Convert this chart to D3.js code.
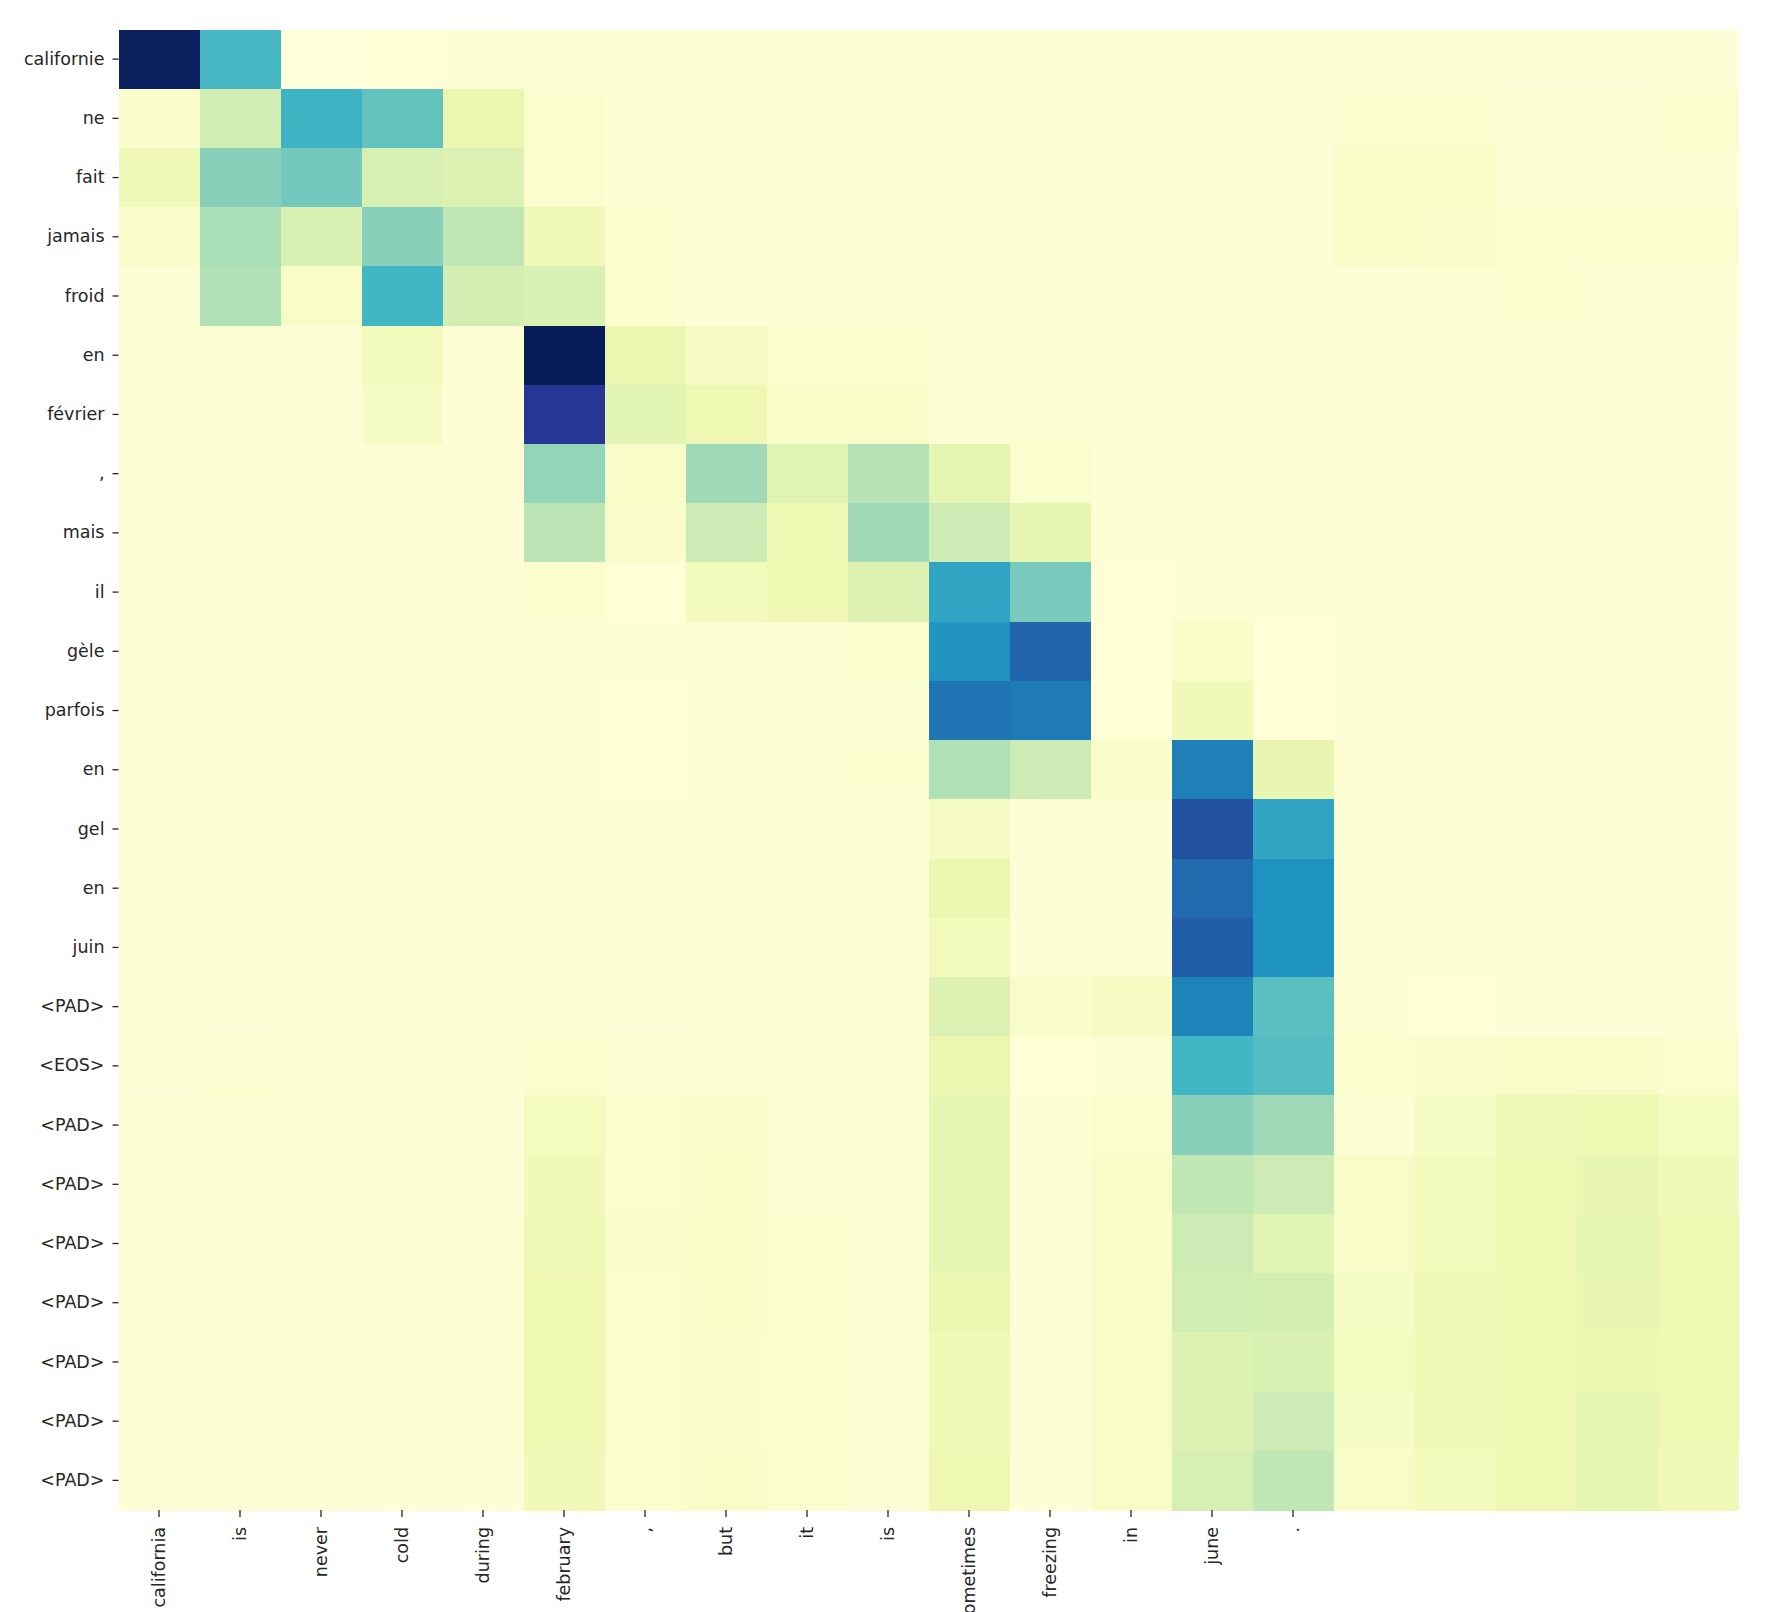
<!DOCTYPE html>
<html>
<head>
<meta charset="utf-8">
<script src="https://cdn.jsdelivr.net/npm/d3@7"></script>
<style>
  html, body { margin: 0; padding: 0; background: #ffffff; }
  svg { display: block; }
  .tick text { font-family: "DejaVu Sans", sans-serif; font-size: 17.5px; fill: #262626; }
  .tick line { stroke: #262626; stroke-width: 1.3; }
</style>
</head>
<body>
<svg id="chart" width="1782" height="1612"></svg>
<script>
// English (source) tokens: columns
const xLabels = ["california", "is", "never", "cold", "during", "february", ",", "but", "it", "is",
                 "sometimes", "freezing", "in", "june", ".", "", "", "", "", ""];
// French (target) tokens: rows
const yLabels = ["californie", "ne", "fait", "jamais", "froid", "en", "février", ",", "mais", "il",
                 "gèle", "parfois", "en", "gel", "en", "juin", "<PAD>", "<EOS>", "<PAD>", "<PAD>",
                 "<PAD>", "<PAD>", "<PAD>", "<PAD>", "<PAD>"];

// attention weights, one row per French token
const row00 = [0.99, 0.49, 0.00, 0.005, 0.02, 0.01, 0.01, 0.01, 0.01, 0.01, 0.01, 0.01, 0.01, 0.01, 0.01, 0.01, 0.01, 0.01, 0.01, 0.01];
const row01 = [0.04, 0.22, 0.51, 0.43, 0.13, 0.03, 0.01, 0.01, 0.01, 0.01, 0.01, 0.01, 0.01, 0.01, 0.01, 0.03, 0.03, 0.02, 0.02, 0.03];
const row02 = [0.10, 0.36, 0.40, 0.20, 0.18, 0.03, 0.01, 0.015, 0.015, 0.015, 0.015, 0.015, 0.015, 0.015, 0.01, 0.05, 0.05, 0.015, 0.02, 0.02];
const row03 = [0.04, 0.30, 0.19, 0.36, 0.26, 0.10, 0.03, 0.015, 0.015, 0.015, 0.015, 0.015, 0.015, 0.015, 0.015, 0.05, 0.04, 0.035, 0.03, 0.03];
const row04 = [0.01, 0.29, 0.05, 0.50, 0.21, 0.19, 0.03, 0.02, 0.02, 0.02, 0.02, 0.02, 0.02, 0.02, 0.02, 0.02, 0.02, 0.03, 0.02, 0.02];
const row05 = [0.01, 0.025, 0.01, 0.09, 0.02, 1.00, 0.13, 0.07, 0.03, 0.035, 0.015, 0.015, 0.015, 0.01, 0.01, 0.01, 0.01, 0.01, 0.01, 0.01];
const row06 = [0.015, 0.02, 0.01, 0.06, 0.015, 0.87, 0.16, 0.12, 0.05, 0.05, 0.015, 0.015, 0.015, 0.01, 0.01, 0.01, 0.01, 0.01, 0.01, 0.01];
const row07 = [0.01, 0.01, 0.01, 0.015, 0.01, 0.34, 0.05, 0.32, 0.17, 0.28, 0.15, 0.035, 0.015, 0.015, 0.01, 0.01, 0.01, 0.01, 0.01, 0.01];
const row08 = [0.01, 0.01, 0.01, 0.015, 0.01, 0.27, 0.04, 0.23, 0.12, 0.32, 0.23, 0.15, 0.02, 0.02, 0.01, 0.01, 0.01, 0.01, 0.01, 0.01];
const row09 = [0.01, 0.01, 0.01, 0.01, 0.01, 0.03, 0.005, 0.09, 0.12, 0.18, 0.56, 0.39, 0.005, 0.02, 0.01, 0.01, 0.01, 0.01, 0.01, 0.01];
const row10 = [0.01, 0.01, 0.01, 0.01, 0.01, 0.01, 0.01, 0.01, 0.015, 0.03, 0.61, 0.73, 0.005, 0.05, 0.005, 0.01, 0.01, 0.01, 0.01, 0.01];
const row11 = [0.01, 0.01, 0.01, 0.01, 0.01, 0.01, 0.005, 0.01, 0.015, 0.025, 0.69, 0.68, 0.005, 0.10, 0.005, 0.01, 0.01, 0.01, 0.01, 0.01];
const row12 = [0.01, 0.01, 0.01, 0.01, 0.01, 0.01, 0.005, 0.01, 0.02, 0.035, 0.29, 0.23, 0.04, 0.67, 0.14, 0.015, 0.01, 0.01, 0.01, 0.01];
const row13 = [0.01, 0.01, 0.01, 0.01, 0.01, 0.01, 0.01, 0.01, 0.01, 0.01, 0.07, 0.01, 0.015, 0.79, 0.56, 0.01, 0.01, 0.01, 0.01, 0.01];
const row14 = [0.01, 0.01, 0.01, 0.01, 0.01, 0.01, 0.01, 0.01, 0.01, 0.01, 0.13, 0.01, 0.01, 0.72, 0.62, 0.01, 0.01, 0.01, 0.01, 0.01];
const row15 = [0.01, 0.01, 0.01, 0.01, 0.01, 0.01, 0.01, 0.01, 0.01, 0.015, 0.09, 0.01, 0.02, 0.75, 0.62, 0.01, 0.01, 0.01, 0.01, 0.01];
const row16 = [0.01, 0.01, 0.01, 0.01, 0.01, 0.01, 0.01, 0.015, 0.015, 0.015, 0.18, 0.04, 0.07, 0.66, 0.45, 0.02, 0.005, 0.01, 0.01, 0.01];
const row17 = [0.01, 0.025, 0.01, 0.01, 0.01, 0.03, 0.025, 0.02, 0.015, 0.01, 0.13, 0.005, 0.015, 0.50, 0.46, 0.03, 0.04, 0.05, 0.05, 0.03];
const row18 = [0.02, 0.02, 0.01, 0.01, 0.01, 0.08, 0.03, 0.04, 0.02, 0.01, 0.15, 0.01, 0.03, 0.36, 0.32, 0.02, 0.06, 0.10, 0.12, 0.08];
const row19 = [0.02, 0.02, 0.01, 0.01, 0.01, 0.10, 0.03, 0.05, 0.02, 0.01, 0.15, 0.01, 0.05, 0.26, 0.23, 0.05, 0.09, 0.12, 0.14, 0.10];
const row20 = [0.02, 0.02, 0.01, 0.01, 0.01, 0.11, 0.04, 0.05, 0.03, 0.01, 0.15, 0.01, 0.05, 0.23, 0.16, 0.05, 0.09, 0.12, 0.15, 0.12];
const row21 = [0.02, 0.02, 0.01, 0.01, 0.01, 0.12, 0.03, 0.05, 0.03, 0.01, 0.13, 0.01, 0.05, 0.22, 0.21, 0.06, 0.10, 0.12, 0.14, 0.12];
const row22 = [0.02, 0.02, 0.01, 0.01, 0.01, 0.12, 0.03, 0.04, 0.03, 0.01, 0.11, 0.01, 0.05, 0.18, 0.19, 0.08, 0.11, 0.12, 0.13, 0.12];
const row23 = [0.02, 0.02, 0.01, 0.01, 0.01, 0.12, 0.03, 0.04, 0.03, 0.01, 0.11, 0.01, 0.05, 0.18, 0.23, 0.06, 0.10, 0.12, 0.15, 0.12];
const row24 = [0.02, 0.02, 0.02, 0.01, 0.01, 0.10, 0.03, 0.05, 0.03, 0.01, 0.12, 0.01, 0.05, 0.20, 0.26, 0.05, 0.09, 0.12, 0.15, 0.10];

const values = [row00, row01, row02, row03, row04, row05, row06, row07, row08, row09,
                row10, row11, row12, row13, row14, row15, row16, row17, row18, row19,
                row20, row21, row22, row23, row24];

// YlGnBu (matplotlib-style linear interpolation between the 9 ColorBrewer stops)
const ylgnbu = ["#ffffd9", "#edf8b1", "#c7e9b4", "#7fcdbb", "#41b6c4", "#1d91c0", "#225ea8", "#253494", "#081d58"];

const svg = d3.select("#chart");
svg.append("rect").attr("width", 1782).attr("height", 1612).attr("fill", "#ffffff");

const plotLeft = 118.5, plotTop = 29.5, plotWidth = 1620, plotHeight = 1480.5;

const x = d3.scaleBand().domain(d3.range(xLabels.length)).range([plotLeft, plotLeft + plotWidth]).padding(0);
const y = d3.scaleBand().domain(d3.range(yLabels.length)).range([plotTop, plotTop + plotHeight]).padding(0);

const vmax = d3.max(values.flat());
const color = d3.scaleLinear()
  .domain(ylgnbu.map((_, i) => vmax * i / (ylgnbu.length - 1)))
  .range(ylgnbu)
  .interpolate(d3.interpolateRgb)
  .clamp(true);

const cells = [];
values.forEach((row, r) => row.forEach((v, c) => cells.push({ r, c, v })));

svg.append("g")
  .selectAll("rect")
  .data(cells)
  .join("rect")
  .attr("x", d => x(d.c))
  .attr("y", d => y(d.r))
  .attr("width", x.bandwidth() + 0.5)
  .attr("height", y.bandwidth() + 0.5)
  .attr("fill", d => color(d.v))
  .attr("shape-rendering", "crispEdges");

// Y axis
const yAxis = svg.append("g")
  .attr("transform", `translate(${plotLeft},0)`)
  .call(d3.axisLeft(y).tickSize(6).tickPadding(8).tickFormat(i => yLabels[i]));
yAxis.select(".domain").remove();

// X axis with vertical labels; only labelled columns get a tick
const xTickIdx = d3.range(xLabels.length).filter(i => xLabels[i] !== "");
const xAxis = svg.append("g")
  .attr("transform", `translate(0,${plotTop + plotHeight})`)
  .call(d3.axisBottom(x).tickValues(xTickIdx).tickSize(7).tickFormat(i => xLabels[i]));
xAxis.select(".domain").remove();
xAxis.selectAll(".tick text")
  .attr("y", 0)
  .attr("x", -17)
  .attr("dy", "0.35em")
  .attr("transform", "rotate(-90)")
  .style("text-anchor", "end");
</script>
</body>
</html>
